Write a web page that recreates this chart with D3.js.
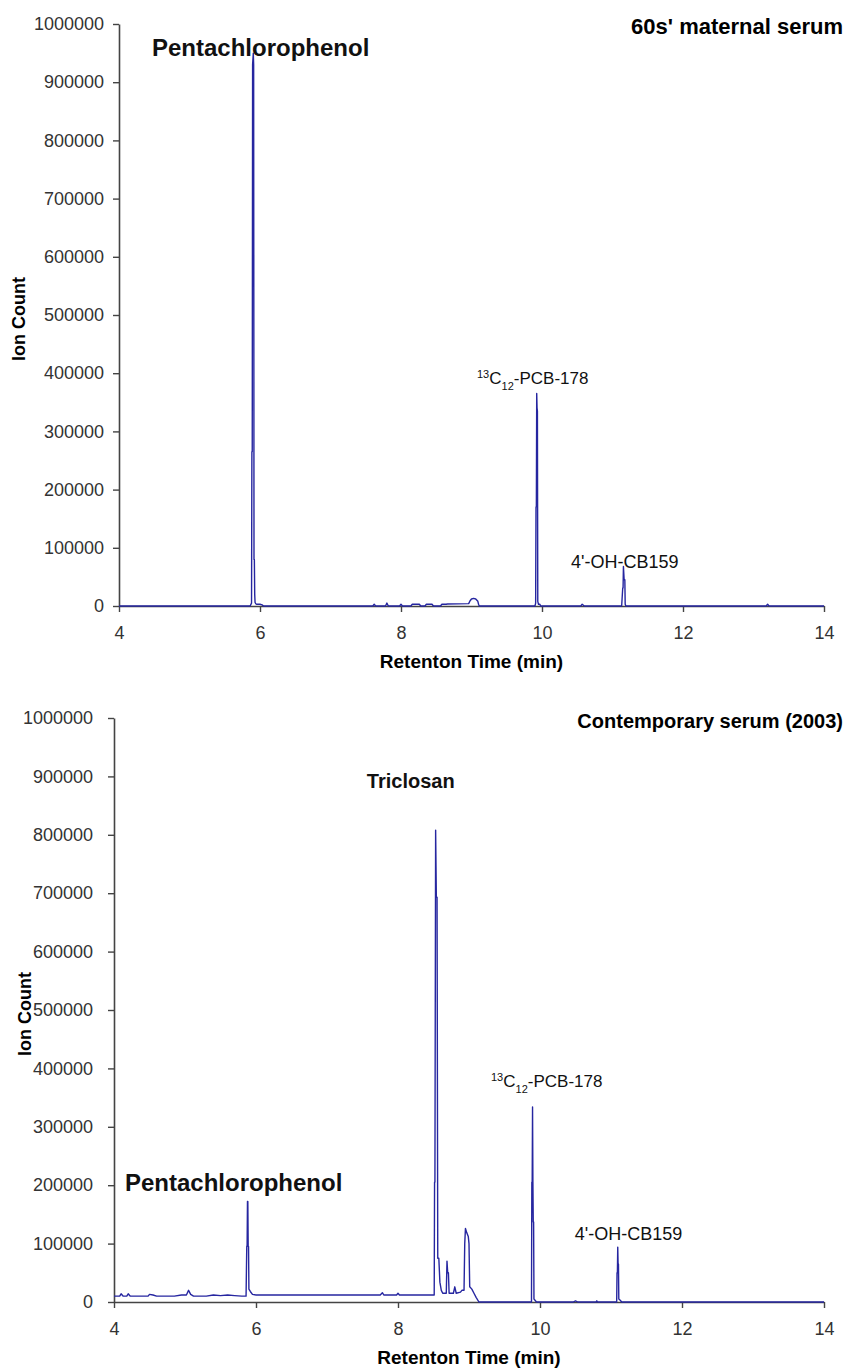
<!DOCTYPE html>
<html>
<head>
<meta charset="utf-8">
<script src="https://cdn.jsdelivr.net/npm/d3@7"></script>
<style>
  body { margin: 0; background: #fff; }
  text { font-family: "Liberation Sans", Arial, sans-serif; }
</style>
</head>
<body>
<script>
// x ticks / y ticks
var timeTicks = [4, 6, 8, 10, 12, 14];
var countTicks = [0, 100000, 200000, 300000, 400000, 500000, 600000, 700000, 800000, 900000, 1000000];

// 60s' maternal serum trace
var topTime = [4.00, 5.86, 5.88, 5.885, 5.89, 5.895, 5.905, 5.91, 5.915, 5.92, 5.925, 5.93, 5.94, 5.95, 6.00, 6.03, 6.05,
  7.60, 7.62, 7.64, 7.78, 7.80, 7.82, 7.98, 8.00, 8.02, 8.14, 8.16, 8.26, 8.28, 8.34, 8.36, 8.44, 8.46, 8.56, 8.58, 8.64, 8.66,
  8.96, 8.98, 9.00, 9.03, 9.06, 9.09, 9.10, 9.11,
  9.90, 9.91, 9.915, 9.92, 9.925, 9.93, 9.935, 9.94, 9.95, 9.97, 9.98,
  10.55, 10.57, 10.60,
  11.13, 11.145, 11.15, 11.155, 11.165, 11.175, 11.18, 11.19,
  13.18, 13.20, 13.22, 14.00];
var topCount = [0, 0, 5000, 265000, 265000, 930000, 950000, 930000, 80000, 80000, 20000, 6000, 4000, 3000, 3000, 2000, 0,
  0, 3000, 0, 0, 5000, 0, 0, 3000, 0, 0, 3000, 3000, 0, 0, 3000, 3000, 0, 0, 3000, 3000, 3500,
  4000, 9000, 12000, 13000, 12000, 8000, 3000, 0,
  0, 5000, 170000, 170000, 365000, 340000, 335000, 8000, 3000, 3000, 0,
  0, 3000, 0,
  0, 31000, 31000, 68000, 45000, 45000, 3000, 0,
  0, 3000, 0, 0];

// Contemporary serum (2003) trace
var bottomTime = [4.00, 4.08, 4.10, 4.13, 4.18, 4.20, 4.23, 4.48, 4.50, 4.55, 4.60, 4.85, 4.95, 5.02, 5.05, 5.08, 5.12, 5.30, 5.40, 5.50, 5.60, 5.70, 5.80,
  5.86, 5.87, 5.875, 5.88, 5.885, 5.89, 5.895, 5.90, 5.92, 5.95, 6.00,
  7.75, 7.78, 7.80, 7.98, 8.00, 8.02, 8.50,
  8.51, 8.515, 8.52, 8.53, 8.54, 8.55, 8.56, 8.575, 8.59, 8.61, 8.63, 8.68, 8.69, 8.70, 8.71, 8.72, 8.78, 8.80, 8.82, 8.88, 8.90, 8.93,
  8.94, 8.95, 8.97, 8.99, 9.00, 9.01, 9.04, 9.07, 9.10, 9.14,
  9.86, 9.88, 9.885, 9.89, 9.895, 9.90, 9.905, 9.91, 9.915, 9.93, 9.95,
  10.47, 10.50, 10.53, 10.79, 10.80, 10.81,
  11.07, 11.08, 11.085, 11.09, 11.095, 11.10, 11.105, 11.11, 11.13, 11.15, 14.00];
var bottomCount = [10000, 10000, 14000, 10000, 10000, 14000, 10000, 10000, 13000, 12000, 10000, 10000, 12000, 12000, 20000, 13000, 10000, 10000, 12000, 11000, 12000, 11000, 10000,
  10000, 95000, 97000, 172000, 172000, 95000, 95000, 22000, 18000, 13000, 12000,
  12000, 16000, 12000, 12000, 15000, 12000, 12000,
  12000, 205000, 205000, 808000, 693000, 693000, 75000, 75000, 34000, 20000, 15000, 15000, 70000, 50000, 50000, 15000, 15000, 26000, 15000, 17000, 20000, 20000,
  100000, 126000, 118000, 112000, 100000, 26000, 22000, 15000, 8000, 0,
  0, 0, 205000, 205000, 334000, 205000, 137000, 137000, 5000, 3000, 0,
  0, 2000, 0, 0, 2000, 0,
  0, 0, 50000, 50000, 94000, 65000, 65000, 5000, 3000, 0, 0];

var svg = d3.select("body").append("svg")
    .attr("width", 847)
    .attr("height", 1368);

var lineColor = "#2626a0";
var axisColor = "#444";

function drawPanel(p) {
  var x = d3.scaleLinear().domain([4, 14]).range([p.left, p.right]);
  var y = d3.scaleLinear().domain([0, 1000000]).range([p.bottom, p.top]);

  var g = svg.append("g");

  // y axis
  var ya = g.append("g")
      .attr("transform", "translate(" + p.left + ",0)")
      .call(d3.axisLeft(y).tickValues(countTicks).tickFormat(d3.format("d"))
        .tickSize(6).tickSizeOuter(0).tickPadding(p.yPad));
  // x axis
  var xa = g.append("g")
      .attr("transform", "translate(0," + p.bottom + ")")
      .call(d3.axisBottom(x).tickValues(timeTicks).tickFormat(d3.format("d"))
        .tickSize(6).tickSizeOuter(0).tickPadding(14));
  [ya, xa].forEach(function(a) {
    a.select(".domain").attr("stroke", axisColor).attr("stroke-width", 1.6);
    a.selectAll(".tick line").attr("stroke", axisColor).attr("stroke-width", 1.4);
    a.selectAll(".tick text").attr("fill", "#333").style("font-size", "18px")
      .style("font-family", "'Liberation Sans', Arial, sans-serif");
  });

  // trace
  var pts = p.time.map(function(t, i) { return [t, p.count[i]]; });
  var line = d3.line()
      .x(function(d) { return x(d[0]); })
      .y(function(d) { return y(d[1]); });
  g.append("path")
      .datum(pts)
      .attr("fill", "none")
      .attr("stroke", lineColor)
      .attr("stroke-width", 1.4)
      .attr("stroke-linejoin", "round")
      .attr("d", line);

  // axis titles
  g.append("text")
      .attr("x", (p.left + p.right) / 2)
      .attr("y", p.bottom + 62)
      .attr("text-anchor", "middle")
      .style("font-size", "19px").style("font-weight", "bold")
      .text("Retenton Time (min)");
  g.append("text")
      .attr("transform", "translate(" + p.yTitleX + "," + ((p.top + p.bottom) / 2 + 4) + ") rotate(-90)")
      .attr("text-anchor", "middle")
      .style("font-size", "18px").style("font-weight", "bold")
      .text("Ion Count");

  // panel title
  g.append("text")
      .attr("x", 843)
      .attr("y", p.top + 10)
      .attr("text-anchor", "end")
      .style("font-size", p.titleSize + "px").style("font-weight", "bold")
      .text(p.title);

  // peak labels
  p.labels.forEach(function(l) {
    var t = g.append("text")
        .attr("x", x(l.t))
        .attr("y", y(l.c))
        .attr("text-anchor", l.anchor || "start")
        .style("font-size", l.size + "px")
        .style("font-weight", l.bold ? "bold" : "normal")
        .attr("fill", "#111");
    if (l.iso) {
      t.append("tspan").attr("baseline-shift", "super").style("font-size", "11px").text("13");
      t.append("tspan").text("C");
      t.append("tspan").attr("baseline-shift", "sub").style("font-size", "11px").text("12");
      t.append("tspan").text("-PCB-178");
    } else {
      t.text(l.text);
    }
  });
}

drawPanel({
  left: 119, right: 824, top: 24, bottom: 606, yPad: 9, yTitleX: 25,
  time: topTime, count: topCount,
  title: "60s' maternal serum", titleSize: 22,
  labels: [
    {text: "Pentachlorophenol", t: 4.468, c: 945000, size: 24, bold: true},
    {iso: true, t: 9.078, c: 381000, size: 17},
    {text: "4'-OH-CB159", t: 10.411, c: 65300, size: 18}
  ]
});

drawPanel({
  left: 114, right: 824, top: 718, bottom: 1302, yPad: 15, yTitleX: 31,
  time: bottomTime, count: bottomCount,
  title: "Contemporary serum (2003)", titleSize: 20,
  labels: [
    {text: "Pentachlorophenol", t: 4.155, c: 190000, size: 24, bold: true},
    {text: "Triclosan", t: 8.18, c: 880000, size: 20, bold: true, anchor: "middle"},
    {iso: true, t: 9.31, c: 368000, size: 17},
    {text: "4'-OH-CB159", t: 10.49, c: 106000, size: 18}
  ]
});
</script>
</body>
</html>
